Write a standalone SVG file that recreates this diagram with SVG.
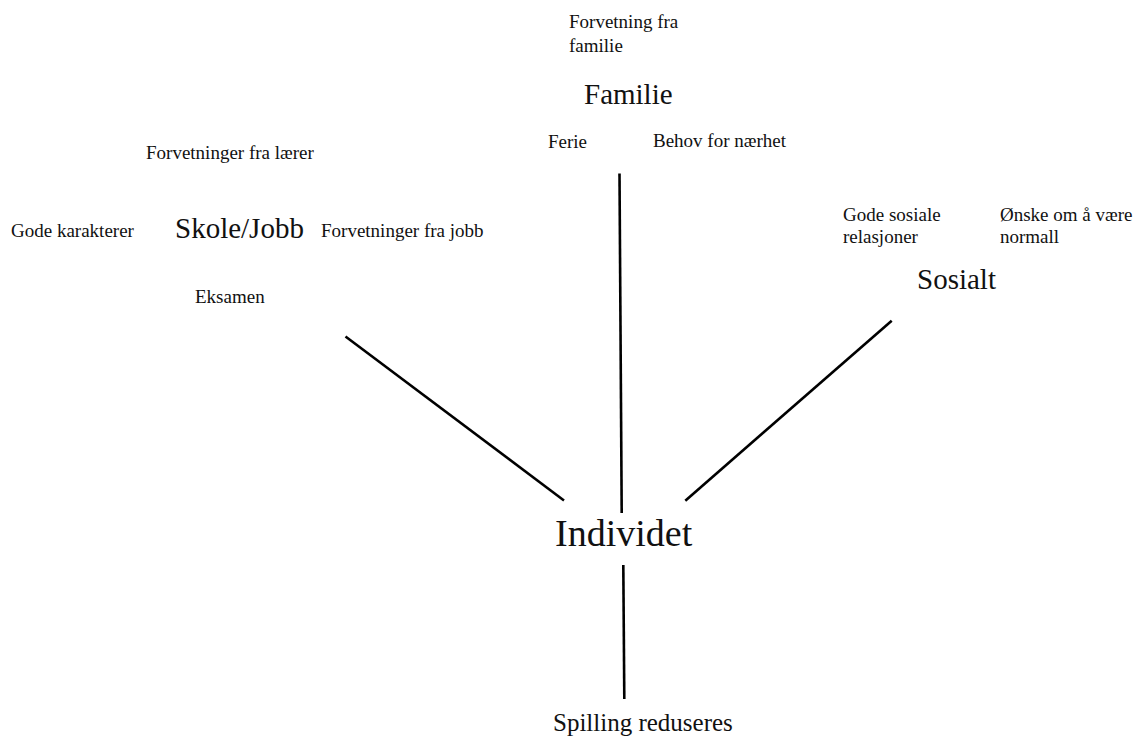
<svg xmlns="http://www.w3.org/2000/svg" width="1138" height="742" viewBox="0 0 1138 742">
<style>
text{font-family:"Liberation Serif","Times New Roman",serif;fill:#111}
.s{font-size:19px}
.m{font-size:29px}
.l{font-size:38px}
.b{font-size:25px}
.c line{stroke:#000;stroke-width:2.6;stroke-linecap:butt}
</style>
<rect width="1138" height="742" fill="#fff"/>
<g class="c" id="connectors">
<line x1="345.5" y1="336.5" x2="564" y2="500.5"/>
<line x1="619.5" y1="173.5" x2="621.7" y2="513"/>
<line x1="891.7" y1="320.7" x2="685.3" y2="500.7"/>
<line x1="623.3" y1="565" x2="624.3" y2="699"/>
</g>
<g id="familie-forventning"><text class="s" x="569" y="28">Forvetning fra</text><text class="s" x="569" y="52">familie</text></g>
<g id="familie"><text class="m" x="584" y="104">Familie</text></g>
<g id="ferie"><text class="s" x="548" y="148">Ferie</text></g>
<g id="naerhet"><text class="s" x="653" y="147">Behov for nærhet</text></g>
<g id="laerer"><text class="s" x="146" y="159">Forvetninger fra lærer</text></g>
<g id="karakterer"><text class="s" x="11" y="237">Gode karakterer</text></g>
<g id="skole"><text class="m" x="175" y="238">Skole/Jobb</text></g>
<g id="jobb"><text class="s" x="321" y="237">Forvetninger fra jobb</text></g>
<g id="eksamen"><text class="s" x="195" y="303">Eksamen</text></g>
<g id="relasjoner"><text class="s" x="843" y="221">Gode sosiale</text><text class="s" x="843" y="243">relasjoner</text></g>
<g id="normal"><text class="s" x="1000" y="221">Ønske om å være</text><text class="s" x="1000" y="243">normall</text></g>
<g id="sosialt"><text class="m" x="917" y="289">Sosialt</text></g>
<g id="individet"><text class="l" x="555" y="546">Individet</text></g>
<g id="spilling"><text class="b" x="553" y="731">Spilling reduseres</text></g>
</svg>
